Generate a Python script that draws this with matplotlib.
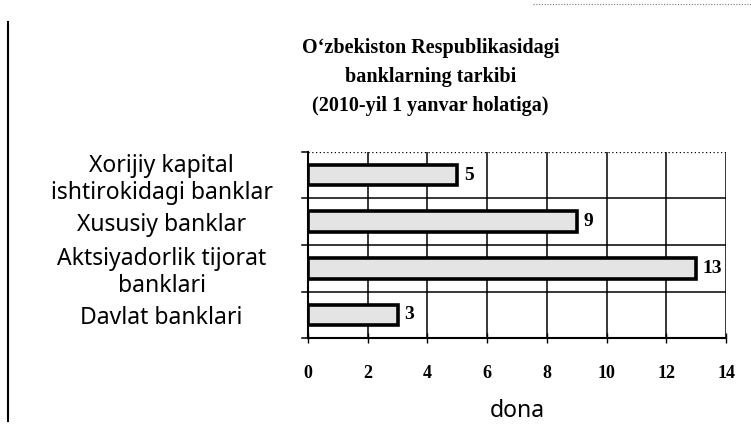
#!/usr/bin/env python3

import numpy as np
import matplotlib.pyplot as plt
from matplotlib.lines import Line2D

# data
categories = ["Xorijiy kapital\nishtirokidagi banklar",
              "Xususiy banklar",
              "Aktsiyadorlik tijorat\nbanklari",
              "Davlat banklari"]
values = [5, 9, 13, 3]
xticks = [0, 2, 4, 6, 8, 10, 12, 14]

title = "O\u2018zbekiston Respublikasidagi\nbanklarning tarkibi\n(2010-yil 1 yanvar holatiga)"
xlabel = "dona"

fig = plt.figure(figsize=(7.51, 4.34), dpi=100)
ax = fig.add_axes([0.410, 0.221, 0.557, 0.429])

pos = np.arange(len(categories))
ax.barh(pos, values, height=0.44, color='#e4e4e4', edgecolor='black', linewidth=2.6, zorder=3)

for p, v in zip(pos, values):
    ax.text(v + 0.22, p, str(v), va='center', ha='left', fontsize=14,
            fontweight='bold', family='Liberation Serif', zorder=4)

ax.set_xlim(0, 14)
ax.set_ylim(len(categories) - 0.5, -0.5)

# grid: vertical at x ticks, horizontal at category boundaries
for x in xticks[1:]:
    ax.axvline(x, color='black', linewidth=1.1, zorder=1)
for b in np.arange(-0.5, len(categories) + 0.5, 1.0)[1:-1]:
    ax.axhline(b, color='black', linewidth=1.1, zorder=1)
ax.axhline(-0.5, color='black', linewidth=0.9, linestyle=(0, (1, 2)), zorder=1)

ax.set_xticks(xticks)
ax.set_xticklabels([str(t) for t in xticks], fontsize=13, fontweight='bold', family='Liberation Serif')
ax.tick_params(axis='x', direction='inout', length=7, width=1.0, pad=16)

ax.set_yticks(pos)
ax.set_yticklabels(categories, fontsize=16.5, family='Noto Sans', linespacing=1.15,
                   multialignment='center')
ax.tick_params(axis='y', length=0)
for lbl in ax.get_yticklabels():
    lbl.set_horizontalalignment('center')
    lbl.set_x(-0.338)

# boundary ticks on the left axis
for b in np.arange(-0.5, len(categories) + 0.5, 1.0):
    ax.plot([-0.2, 0.0], [b, b], color='black', linewidth=1.1, clip_on=False)

ax.set_xlabel(xlabel, fontsize=16.5, family='Noto Sans', labelpad=12)

ax.spines['top'].set_visible(False)
ax.spines['right'].set_visible(False)
ax.spines['left'].set_linewidth(1.5)
ax.spines['bottom'].set_linewidth(1.5)

fig.text(0.573, 0.912, title, ha='center', va='top', fontsize=14.5, fontweight='bold',
         family='Liberation Serif', linespacing=1.6)

# frame remnants of the scanned page
fig.add_artist(Line2D([0.011, 0.011], [0.03, 0.95], color='black', linewidth=1.5))
fig.add_artist(Line2D([0.71, 1.0], [0.99, 0.99], color='#777777', linewidth=0.8, linestyle=(0, (1, 1.5))))

fig.savefig("out.png", dpi=100, facecolor='w')
